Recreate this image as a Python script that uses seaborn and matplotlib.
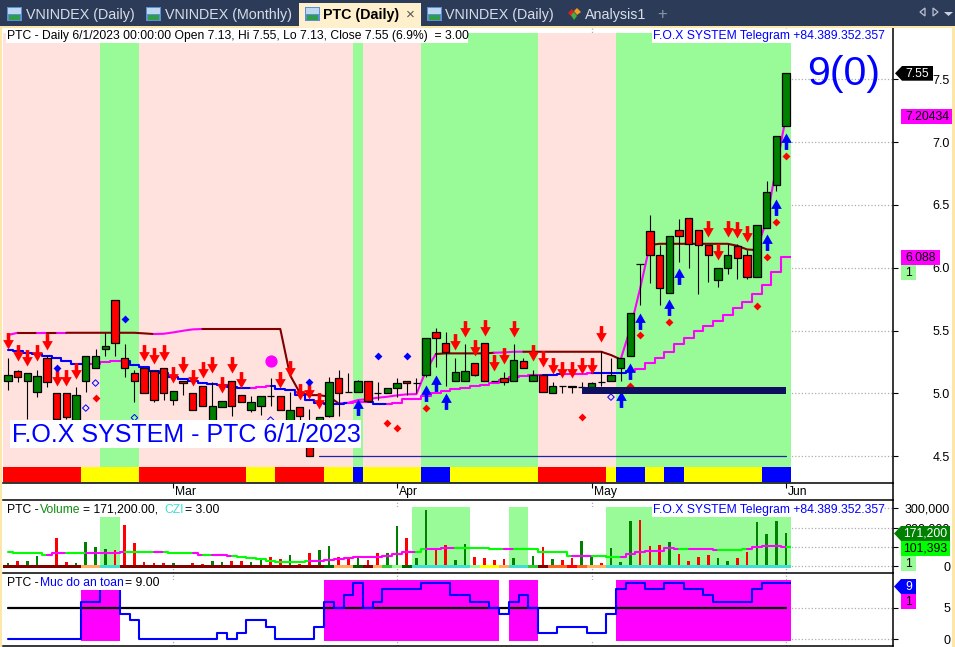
import numpy as np
import seaborn as sns
import matplotlib
matplotlib.use('Agg')
import matplotlib.pyplot as plt
import matplotlib.transforms as mtransforms
from matplotlib.lines import Line2D
from matplotlib.patches import Rectangle, Polygon
from matplotlib.path import Path

# candles, one value per session
open_p = [5.10,5.18,5.10,5.01,5.28,5.00,5.00,4.79,5.10,5.20,
          5.35,5.74,5.28,5.16,5.20,5.18,5.20,4.95,5.10,5.00,
          5.06,4.78,4.89,5.10,4.99,4.87,4.90,4.98,4.98,4.77,
          4.89,4.58,4.72,4.82,5.12,5.01,5.01,5.10,5.00,5.00,
          5.04,5.10,5.08,5.15,5.49,5.40,5.10,5.10,5.24,5.40,
          5.10,5.12,5.10,5.26,5.10,5.15,5.00,5.06,5.06,5.05,
          5.05,5.09,5.10,5.20,5.30,6.03,6.29,6.10,5.80,6.30,
          6.40,6.30,6.18,5.90,6.00,6.17,6.10,5.93,6.32,6.66,7.13]
close_p = [5.15,5.13,5.16,5.14,5.09,4.80,4.81,4.99,5.30,5.30,
           5.38,5.40,5.20,5.10,5.00,4.95,5.00,5.02,5.08,4.87,
           4.90,4.90,4.94,4.90,4.93,4.93,4.98,4.98,4.87,4.87,
           4.82,4.50,4.81,5.09,5.00,5.01,5.10,4.94,5.00,5.04,
           5.08,5.08,5.08,5.44,5.44,5.33,5.17,5.18,5.15,5.10,
           5.10,5.09,5.27,5.20,5.15,5.01,5.06,5.06,5.05,5.05,
           5.08,5.09,5.15,5.28,5.64,6.03,6.10,5.84,6.25,6.25,
           6.19,6.18,6.10,6.00,6.10,6.08,5.93,6.34,6.60,7.05,7.55]
high_p = [5.28,5.19,5.16,5.19,5.30,5.00,5.00,5.05,5.30,5.35,
          5.48,5.74,5.39,5.19,5.20,5.18,5.20,5.02,5.10,5.00,
          5.06,5.09,4.94,5.10,4.99,4.98,4.98,5.12,4.98,5.01,
          4.89,4.88,4.81,5.13,5.19,5.16,5.11,5.10,5.09,5.04,
          5.12,5.10,5.12,5.44,5.52,5.49,5.28,5.39,5.24,5.40,
          5.10,5.17,5.39,5.28,5.19,5.15,5.09,5.06,5.06,5.09,
          5.09,5.34,5.28,5.28,5.64,6.03,6.42,6.18,6.25,6.39,
          6.40,6.30,6.18,6.00,6.19,6.19,6.14,6.34,6.69,7.05,7.55]
low_p = [5.03,5.09,4.80,4.97,5.05,4.79,4.80,4.78,5.01,5.20,
         5.30,5.30,5.13,4.93,5.00,4.93,4.95,4.91,4.99,4.87,
         4.90,4.77,4.89,4.82,4.93,4.85,4.83,4.90,4.87,4.75,
         4.74,4.50,4.70,4.81,4.82,5.01,5.01,4.94,4.95,5.00,
         4.97,4.99,5.00,5.13,5.21,5.06,5.10,5.10,5.14,5.10,
         5.10,5.07,5.10,5.20,5.10,5.01,5.00,5.00,5.00,5.04,
         5.04,5.06,5.10,5.10,5.30,5.70,5.88,5.70,5.80,6.05,
         6.00,5.79,5.89,5.85,5.95,5.91,5.91,5.93,6.32,6.61,7.13]

# upper stop line and lower trailing line
stop_line = [5.465,5.483,5.483,5.483,5.483,5.483,5.483,5.483,5.483,5.483,
             5.483,5.483,5.483,5.483,5.478,5.473,5.475,5.486,5.499,5.510,
             5.513,5.513,5.513,5.513,5.513,5.513,5.513,5.513,5.513,5.146,
             5.006,4.987,4.987,4.974,4.921,4.926,4.948,4.955,4.966,4.974,
             4.985,4.993,4.995,5.186,5.314,5.319,5.319,5.319,5.319,5.319,
             5.324,5.327,5.332,5.332,5.332,5.332,5.332,5.332,5.332,5.332,
             5.332,5.332,5.306,5.271,5.518,5.836,6.181,6.191,6.191,6.191,
             6.191,6.191,6.191,6.191,6.191,6.175,6.146,6.141,6.38,6.80,7.20434]
stop_state = "m" "rr" "m" "r" "m" "rrrrrrrrr" "mmmmm" "rrrrrrrrrrrrrr" "mmmmmmmmmm" \
             "rrrrrr" "mmm" "rrrrrrrrrr" "mmm" "rrrrrrrrrrr" "mmmm"
trail_line = [5.345,5.335,5.324,5.314,5.298,5.279,5.258,5.234,5.234,5.234,
              5.250,5.258,5.261,5.229,5.207,5.181,5.160,5.133,5.115,5.099,
              5.085,5.075,5.067,5.054,5.043,5.043,5.054,5.059,5.038,5.027,
              4.987,4.948,4.926,4.918,4.918,4.921,4.932,4.934,4.918,4.918,
              4.926,4.953,4.958,4.979,5.006,5.019,5.038,5.046,5.059,5.070,
              5.080,5.107,5.133,5.139,5.144,5.144,5.146,5.152,5.154,5.154,
              5.160,5.160,5.160,5.160,5.181,5.191,5.239,5.279,5.329,5.393,
              5.443,5.499,5.536,5.579,5.624,5.682,5.730,5.791,5.862,5.966,6.088]
trail_state = "bbbbbbbb" "mmmm" "bbbbbbbbbbbbb" "mm" "bbbbbbbb" "mm" "bb" "mmmmmmmmmmmmmmmm" \
              "bb" "mmm" "bbbb" "mmmmmmmmmmmmmmmmm"

# signal markers
sell_idx = [0,1,2,3,4,5,6,7,14,15,16,17,18,19,20,21,22,23,24,28,29,30,31,32,
            46,47,48,49,50,51,52,54,55,56,57,58,59,60,61,72,73,74,75,76]
sell_tip = [5.351,5.258,5.218,5.258,5.345,5.062,5.062,5.115,5.258,5.234,5.258,5.085,
            5.160,5.059,5.125,5.160,5.006,5.160,5.040,5.040,5.133,4.948,4.953,4.873,
            5.345,5.452,5.298,5.460,5.178,5.234,5.452,5.258,5.207,5.154,5.125,5.125,
            5.154,5.154,5.412,6.242,6.061,6.242,6.234,6.207]
buy_idx = [36,43,44,45,63,64,65,68,69,78,79,80]
buy_tip = [4.953,5.067,5.146,5.001,5.021,5.239,5.642,5.748,5.995,6.266,6.544,7.069]
red_dot_idx = [9,39,40,43,59,64,65,68,77,78,79,80]
red_dot_val = [4.966,4.767,4.727,4.887,4.815,5.061,5.465,5.568,5.695,6.085,6.364,6.889]
blue_dot_idx = [5,12,31,38,41]
blue_dot_val = [5.202,5.592,5.093,5.298,5.298]
open_dot_idx = [8,9,13,27,62]
open_dot_val = [4.884,5.083,4.807,4.788,4.971]
big_dot_idx = [27]
big_dot_val = [5.258]

# background zones and ribbon, one letter per session
zone_state = "pppppppppp" "gggg" "pppppppppppppppppppppp" "g" "pppppp" "gggggggggggg" \
             "pppppppp" "gggggggggggggggggg"
ribbon_state = "rrrrrrrr" "yyyyyy" "rrrrrrrrrrr" "yyy" "rrrrr" "yyy" "b" "yyyyyy" "bbb" \
               "yyyyyyyyy" "rrrrrrr" "y" "bbb" "yy" "bb" "yyyyyyyy" "bbb"

# volume pane
volume = [15500,27600,27600,53400,6900,146500,20700,17200,125900,100000,
          89600,84500,213800,120700,20700,15500,15500,17200,1700,15500,
          10300,25900,20700,25900,27600,20700,31000,48300,37900,56900,
          12100,69000,84500,103400,48300,48300,46500,32800,67200,69000,
          208600,146500,43100,291400,93100,110300,32800,115500,48300,43100,
          32800,37900,43100,6900,53400,100000,37900,32800,43100,131000,
          58600,17200,94800,22400,234500,239600,105200,110300,125900,63800,
          27600,48300,58600,43100,27600,43100,74100,229300,167200,234500,171200]
vol_side = ["g","r","g","g","r","r","r","g","g","g",
            "g","r","r","r","r","r","r","g","r","r",
            "r","g","g","r","r","g","g","r","r","g",
            "r","r","g","g","r","r","g","r","r","g",
            "g","r","g","g","r","r","g","g","r","r",
            "r","r","g","r","g","r","g","r","r","g",
            "g","r","g","g","g","r","r","r","g","r",
            "r","r","r","g","g","r","r","g","g","g","g"]
vol_ma = [75900,70700,70700,70700,60300,67200,69000,70700,70700,70700,
          70700,70700,72400,74100,74100,75900,72400,70700,69000,67200,
          58600,60300,60300,51700,48300,43100,37900,25900,24100,24100,
          24100,27600,29300,34500,39700,43100,46500,50000,50000,51700,
          62100,72400,75900,87900,91400,96500,96500,96500,96500,96500,
          91400,91400,91400,91400,87900,75900,74100,72400,53400,53400,
          53400,53400,50000,50000,62100,72400,79300,79300,93100,89600,
          89600,89600,89600,86200,86200,86200,89600,98300,105200,105200,101393]
vol_ma_state = "gggg" "mm" "gg" "mmmm" "ggg" "m" "ggg" "m" "g" "mm" "gggggggg" "mmmmmmmmmmm" "g" \
               "mmm" "ggggg" "m" "gggggg" "mm" "ggg" "mmmmmm" "g" "mmm" "ggg" "mmmm" "g"
vol_strip = "MMMMMMMM" "SS" "TT" "MMMMMMMMMMMMMMMMMMMMM" "D" "SS" "D" "M" "S" "L" "P" "D" \
            "TTTTTT" "P" "YY" "S" "TT" "L" "M" "OO" "R" "O" "SS" "TTTTTTTTTTTTTTTTTTT"

# safety level pane
safety = [0,0,0,0,0,0,0,0,6,6,9,9,4,3,0,0,0,0,0,0,
          0,0,1,0,1,3,3,2,0,0,0,0,2,6,5,7,9,5,6,8,
          8,8,8,9,9,9,7,7,6,6,5,4,6,7,5,1,1,2,2,2,
          1,1,4,8,9,9,8,8,9,9,8,8,7,6,6,6,6,8,9,9,9]
safety_mid = [5] * 81

price_ticks = [4.5,5.0,5.5,6.0,6.5,7.0,7.5]
price_labels = ["4.5","5.0","5.5","6.0","6.5","7.0","7.5"]
vol_ticks = [0,100000,200000,300000]
vol_labels = ["0","100,000","200,000","300,000"]
safety_ticks = [0,5]
month_pos = [17,40,60,80]
month_labels = ["Mar","Apr","May","Jun"]

W, H = 955, 647
FONT = ['Liberation Sans', 'DejaVu Sans']
sns.set_theme(style="white", rc={'axes.edgecolor': 'black', 'xtick.color': 'black',
                                 'ytick.color': 'black', 'text.color': 'black'})
plt.rcParams['font.family'] = FONT

xs = np.arange(len(open_p))
fig = plt.figure(figsize=(W / 100, H / 100), dpi=100, facecolor='white')


def add_pane(top, bottom):
    return fig.add_axes([3 / W, 1 - bottom / H, 890 / W, (bottom - top) / H])


def frac(top_px, bottom_px, pane_top, pane_bottom):
    h = pane_bottom - pane_top
    return (pane_bottom - bottom_px) / h, (pane_bottom - top_px) / h


def runs(states):
    start = 0
    for i in range(1, len(states) + 1):
        if i == len(states) or states[i] != states[start]:
            yield start, i, states[start]
            start = i


def fill_states(ax, states, colors, ymin, ymax, z=1):
    for a, b, s in runs(states):
        if colors.get(s):
            ax.axvspan(a - 0.5, b - 0.5, ymin=ymin, ymax=ymax, color=colors[s], lw=0, zorder=z)


def line_states(ax, vals, states, colors, steps=False, lw=1.5, z=3):
    vals = np.asarray(vals, dtype=float)
    for a, b, s in runs(states):
        end = min(b + 1, len(vals))
        kws = {'drawstyle': 'steps-mid'} if steps else {}
        sns.lineplot(x=xs[a:end], y=vals[a:end], color=colors[s], linewidth=lw, ax=ax,
                     legend=False, estimator=None, errorbar=None, zorder=z, **kws)
    if steps:
        # the stepped lines run on to the right edge of the last session
        ax.hlines(vals[-1], xs[-1], xs[-1] + 0.5, color=colors[states[-1]], lw=lw, zorder=z)


def fig_rect(x0, y0, x1, y1, color, z=1.5):
    fig.add_artist(Rectangle((x0 / W, 1 - y1 / H), (x1 - x0) / W, (y1 - y0) / H,
                             transform=fig.transFigure, fc=color, ec='none', lw=0, zorder=z))


def fig_poly(pts, fc, ec='none', lw=0, z=1.6):
    fig.add_artist(Polygon([(x / W, 1 - y / H) for x, y in pts], closed=True,
                           transform=fig.transFigure, fc=fc, ec=ec, lw=lw, zorder=z))


def fig_text(x, y, s, color='black', size=8.75, ha='left', **kw):
    fig.text(x / W, 1 - y / H, s, color=color, fontsize=size, ha=ha, va='center', **kw)


PINK, PALE = '#FFE1DD', '#98FB98'
GREEN, RED, BLUE, MAG, MAROON = '#008000', '#FF0000', '#0000FF', '#FF00FF', '#800000'
GRID = dict(color='#ADADAD', linestyle=':', linewidth=0.9)

# ---- main pane
M_TOP, M_BOT = 28, 483
ax = add_pane(M_TOP, M_BOT)
ax.set_axisbelow(True)
ax.grid(True, **GRID)
f0, f1 = frac(33, 483, M_TOP, M_BOT)
fill_states(ax, zone_state, {'p': PINK, 'g': PALE}, f0, f1)
f0, f1 = frac(467, 482, M_TOP, M_BOT)
fill_states(ax, ribbon_state, {'r': RED, 'y': '#FFFF00', 'b': BLUE}, f0, f1, z=1.2)

ax.plot([32, 80], [4.5, 4.5], color='#2222AA', lw=0.9, zorder=2)
line_states(ax, stop_line, stop_state, {'m': MAG, 'r': MAROON})
line_states(ax, trail_line, trail_state, {'m': MAG, 'b': BLUE}, steps=True)

o, c, hi, lo = map(np.array, (open_p, close_p, high_p, low_p))
ax.vlines(xs, lo, hi, color='black', lw=0.8, zorder=3.9)
body_colors = [RED if b < a else (GREEN if b > a else 'black') for a, b in zip(o, c)]
ax.bar(xs, np.abs(c - o), bottom=np.minimum(o, c), width=0.76, color=body_colors,
       edgecolor='black', linewidth=0.9, zorder=4)

arrow_down = Path([(0, 0), (-4.5, 8), (-1.5, 8), (-1.5, 14), (1.5, 14), (1.5, 8), (4.5, 8), (0, 0)], closed=True)
arrow_up = Path([(0, 0), (-4.5, -8), (-1.5, -8), (-1.5, -14), (1.5, -14), (1.5, -8), (4.5, -8), (0, 0)], closed=True)
sns.scatterplot(x=sell_idx, y=sell_tip, marker=arrow_down, s=560, color=RED, linewidth=0, ax=ax, zorder=5, legend=False)
sns.scatterplot(x=buy_idx, y=buy_tip, marker=arrow_up, s=560, color=BLUE, linewidth=0, ax=ax, zorder=5, legend=False)
sns.scatterplot(x=red_dot_idx, y=red_dot_val, marker='D', s=16, color=RED, linewidth=0, ax=ax, zorder=5, legend=False)
sns.scatterplot(x=blue_dot_idx, y=blue_dot_val, marker='D', s=16, color=BLUE, linewidth=0, ax=ax, zorder=5, legend=False)
ax.scatter(open_dot_idx, open_dot_val, marker='D', s=11, facecolors='none', edgecolors=BLUE, linewidths=0.7, zorder=5)
sns.scatterplot(x=big_dot_idx, y=big_dot_val, marker='o', s=78, color=MAG, linewidth=0, ax=ax, zorder=5, legend=False)
ax.fill_between([59, 80], [4.995, 4.995], [5.049, 5.049], color='#0F0F60', lw=0, zorder=6)

ax.set_ylim(4.5 - (M_BOT - 456.3) / 125.7, 7.5 + (79.3 - M_TOP) / 125.7)
ax.set_yticks(price_ticks, labels=price_labels)
ax.set_xticks(month_pos, labels=month_labels)

# ---- volume pane
V_TOP, V_BOT = 500, 573.3
ax_v = add_pane(V_TOP, V_BOT)
ax_v.set_axisbelow(True)
ax_v.grid(True, **GRID)
f0, f1 = frac(507, 565, V_TOP, V_BOT)
ax_v.axvspan(-0.5, 80.5, ymin=f0, ymax=f1, color='white', lw=0, zorder=1)
zone = ['g' if s == 'T' else 'n' for s in vol_strip]
fill_states(ax_v, zone, {'g': PALE}, f0, f1, z=1.1)
sns.barplot(x=xs, y=volume, hue=vol_side, palette={'g': GREEN, 'r': RED}, native_scale=True, orient='x',
            dodge=False, legend=False, errorbar=None, width=0.27, saturation=1, linewidth=0, ax=ax_v, zorder=3)
line_states(ax_v, vol_ma, vol_ma_state, {'g': '#00FF00', 'm': MAG}, steps=True, z=3.5)
f0, f1 = frac(565, 568, V_TOP, V_BOT)
fill_states(ax_v, vol_strip, {'M': MAROON, 'S': '#FFB060', 'T': '#40E0D0', 'D': '#006400', 'L': '#32CD32',
                              'P': PALE, 'Y': '#FFFF00', 'O': '#FF6420', 'R': RED}, f0, f1, z=4)
ax_v.set_ylim(-(V_BOT - 566.3) / 19.33 * 100000, (566.3 - V_TOP) / 19.33 * 100000)
ax_v.set_yticks(vol_ticks, labels=vol_labels)
ax_v.set_xticks(month_pos, labels=[])

# ---- safety pane
S_TOP, S_BOT = 573.3, 646
ax_s = add_pane(S_TOP, S_BOT)
ax_s.set_axisbelow(True)
ax_s.grid(True, **GRID)
f0, f1 = frac(580, 641, S_TOP, S_BOT)
ax_s.axvspan(-0.5, 80.5, ymin=f0, ymax=f1, color='white', lw=0, zorder=1)
fill_states(ax_s, ['m' if v >= 5 else 'n' for v in safety], {'m': MAG}, f0, f1, z=1.1)
sns.lineplot(x=xs, y=safety_mid, color='black', linewidth=1.6, ax=ax_s, legend=False, errorbar=None, zorder=3)
sns.lineplot(x=xs, y=safety, color=BLUE, linewidth=1.5, drawstyle='steps-mid', ax=ax_s, legend=False,
             estimator=None, errorbar=None, zorder=4)
ax_s.hlines(safety[-1], xs[-1], xs[-1] + 0.5, color=BLUE, lw=1.5, zorder=4)
ax_s.set_ylim(-(S_BOT - 639.3) / 6.27, (639.3 - S_TOP) / 6.27)
ax_s.set_yticks(safety_ticks, labels=["0", "5"])
ax_s.set_xticks(month_pos, labels=[])

# ---- shared axis styling
for a, top, bottom in ((ax, False, True), (ax_v, True, False), (ax_s, True, True)):
    a.set_xlim((3 - 8) / 9.725, (893 - 8) / 9.725)
    a.set_xlabel('')
    a.set_ylabel('')
    a.patch.set_facecolor('white')
    for name, vis in (('top', top), ('bottom', bottom), ('left', False), ('right', True)):
        a.spines[name].set_visible(vis)
        a.spines[name].set_linewidth(1.1)
    a.tick_params(axis='y', left=False, right=True, labelleft=False, labelright=True, length=3.6,
                  width=0.8, pad=37.5, labelsize=9)
    a.tick_params(axis='x', bottom=False, length=0)
    plt.setp(a.get_yticklabels(), ha='right')

ax.tick_params(axis='x', bottom=True, length=3.5, width=0.8, pad=-1, labelsize=8.75)
shift = mtransforms.ScaledTranslation(2 / 100, 0, fig.dpi_scale_trans)
for lab in ax.get_xticklabels():
    lab.set_ha('left')
    lab.set_transform(lab.get_transform() + shift)

fig.add_artist(Line2D([893.2 / W, 893.2 / W], [1 - 500 / H, 1 - 483 / H], color='black', lw=1.1, transform=fig.transFigure))

# ---- pane captions
fig_rect(6, 28, 468, 43, 'white')
fig_text(6.5, 35.5, "PTC - Daily 6/1/2023 00:00:00 Open 7.13, Hi 7.55, Lo 7.13, Close 7.55 (6.9%)  = 3.00")
fig_rect(652, 29, 883, 43, 'white')
fig_text(652.5, 36, "F.O.X SYSTEM Telegram +84.389.352.357", color=BLUE)
fig_rect(10, 420, 361, 448, 'white')
fig_text(12, 434.5, "F.O.X SYSTEM - PTC 6/1/2023", color=BLUE, size=18)
fig_text(807, 74, "9(0)", color=BLUE, size=29.5)

fig_rect(6, 503, 220, 516.7, 'white')
fig_text(6.5, 510, "PTC - ")
fig_text(40, 510, "Volume", color='#108A10')
fig_text(83, 510, "= 171,200.00, ")
fig_text(164.5, 510, "CZI", color='#40E0D0')
fig_text(184.5, 510, "= 3.00")
fig_rect(652, 503, 883, 516.7, 'white')
fig_text(652.5, 510, "F.O.X SYSTEM Telegram +84.389.352.357", color=BLUE)

fig_rect(6, 575, 162, 590, 'white')
fig_text(6.5, 583, "PTC - ")
fig_text(40, 583, "Muc do an toan", color=BLUE)
fig_text(125, 583, "= 9.00")

# ---- value tags on the scale
def tag(x0, y0, x1, y1, s, bg, fg, arrow=False):
    if arrow:
        ym = (y0 + y1) / 2
        fig_poly([(x0, ym), (x0 + 7, y0), (x1, y0), (x1, y1), (x0 + 7, y1)], bg)
        fig_text((x0 + 7 + x1) / 2, ym + 0.3, s, color=fg, ha='center', zorder=4)
    else:
        fig_rect(x0, y0, x1, y1, bg)
        fig_text((x0 + x1) / 2, (y0 + y1) / 2 + 0.3, s, color=fg, ha='center', zorder=4)


tag(895, 66, 933, 80.7, "7.55", 'black', 'white', arrow=True)
tag(901, 109.3, 954, 123.7, "7.20434", MAG, 'black')
tag(901, 250, 940, 265, "6.088", MAG, 'black')
tag(901, 265, 916, 280, "1", PALE, 'black')
tag(894, 526, 950, 541, "171,200", GREEN, 'white', arrow=True)
tag(901, 541, 950, 556, "101,393", '#00FF00', 'black')
tag(901, 556, 916, 571, "1", PALE, 'black')
tag(894, 579, 916, 594, "9", BLUE, 'white', arrow=True)
tag(901, 594, 916, 609, "1", MAG, 'black')

# ---- window chrome: tab strip and frame
NAVY, BEIGE = '#2C3B58', '#FCE6A8'
fig_rect(0, 0, W, 26, NAVY, z=2)
fig_rect(0, 26, W, 28, BEIGE, z=2)
fig_rect(0, 28, 2, H, BEIGE, z=2)
fig_rect(952, 28, W, H, BEIGE, z=2)
fig_rect(299, 3, 421, 28, '#FEF0CC', z=2.1)


def icon(x):
    fig_rect(x, 7, x + 15, 21, '#5C8FD6', z=2.2)
    fig_rect(x + 1, 8, x + 14, 14, '#BFD8F2', z=2.3)
    fig_rect(x + 2, 15, x + 13, 20, '#2E9E4A', z=2.3)


for ix in (7, 146, 305, 427):
    icon(ix)
TAB = '#D8DEE8'
fig_text(26, 14.5, "VNINDEX (Daily)", color=TAB, size=10.3, zorder=4)
fig_text(165, 14.5, "VNINDEX (Monthly)", color=TAB, size=10.3, zorder=4)
fig_text(323, 14.5, "PTC (Daily)", size=10.3, fontweight='bold', zorder=4)
fig_text(410, 14.5, "×", color='#555555', size=11, ha='center', zorder=4)
fig_text(445, 14.5, "VNINDEX (Daily)", color=TAB, size=10.3, zorder=4)
fig_text(585, 14.5, "Analysis1", color=TAB, size=10.3, zorder=4)
fig_text(662, 14, "+", color='#8A93A6', size=12, ha='center', zorder=4)
fig_poly([(568, 13), (572, 9), (575, 13), (572, 17)], '#E02020', z=2.4)
fig_poly([(574, 11), (577, 8), (581, 12), (577, 15)], '#F0A020', z=2.4)
fig_poly([(571, 15), (574, 12), (577, 16), (574, 20)], '#40B040', z=2.4)
fig_poly([(925, 8), (925, 16), (920, 12)], 'none', ec='#B8C0D0', lw=0.9, z=2.4)
fig_poly([(933, 8), (933, 16), (938, 12)], 'none', ec='#B8C0D0', lw=0.9, z=2.4)
fig_poly([(944, 12), (953, 12), (948.5, 16)], '#C8D0E0', z=2.4)

fig.savefig('out.png', dpi=100)
